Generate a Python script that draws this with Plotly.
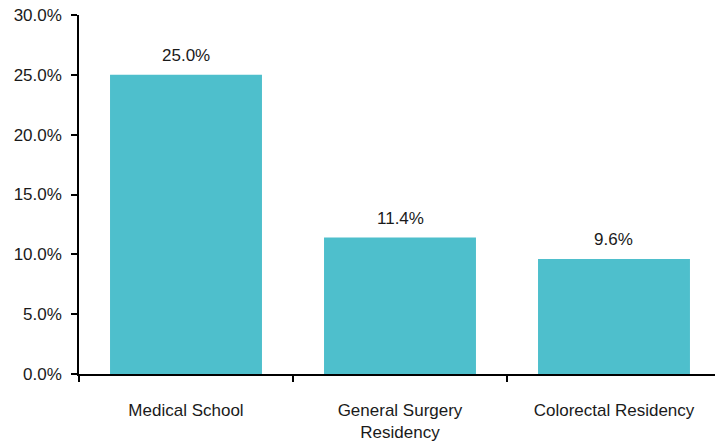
import plotly.graph_objects as go

categories = ["Medical School", "General Surgery<br>Residency", "Colorectal Residency"]
values = [25.0, 11.4, 9.6]
value_labels = ["25.0%", "11.4%", "9.6%"]
y_ticks = [0, 5, 10, 15, 20, 25, 30]
y_tick_labels = ["0.0%", "5.0%", "10.0%", "15.0%", "20.0%", "25.0%", "30.0%"]

font_family = "Liberation Sans, Arial, sans-serif"

fig = go.Figure()
fig.add_trace(go.Bar(
    x=categories, y=values, marker_color="#4EBFCC", width=0.71,
    marker_line_width=0, hoverinfo="skip"
))

for c, v, t in zip(categories, values, value_labels):
    fig.add_annotation(x=c, y=v, text=t, showarrow=False, yanchor="bottom",
                       yshift=8, font=dict(size=17, color="#1a1a1a", family=font_family))

fig.update_layout(
    width=715, height=445,
    margin=dict(l=79, r=0, t=15, b=71),
    paper_bgcolor="white", plot_bgcolor="white",
    showlegend=False,
    font=dict(family=font_family, size=17, color="#1a1a1a"),
    bargap=0.29,
)
fig.update_xaxes(
    type="category", range=[-0.5, 2.472], automargin=False,
    showline=True, linecolor="black", linewidth=1.5,
    ticks="outside", tickson="boundaries", ticklen=6, tickcolor="black", tickwidth=1.5,
    showgrid=False, ticklabelstandoff=20,
)
fig.update_yaxes(
    range=[0, 30], tickvals=y_ticks, ticktext=y_tick_labels, automargin=False,
    showline=True, linecolor="black", linewidth=1.5,
    ticks="outside", ticklen=6, tickcolor="black", tickwidth=1.5,
    showgrid=False, zeroline=False, ticklabelstandoff=6,
)

fig.write_html("out.html", config={"displayModeBar": False},
               post_script="document.body.style.margin='0';")
